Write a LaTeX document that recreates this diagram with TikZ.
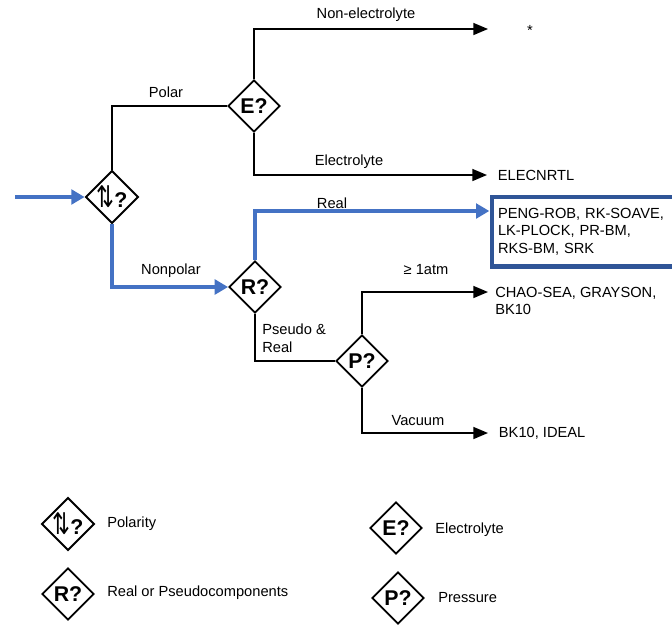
\documentclass[tikz,border=0pt]{standalone}
\usepackage{fontspec}
\setmainfont{Liberation Sans}
\newfontfamily\arrowfont{DejaVu Sans}
\usetikzlibrary{shapes.geometric,arrows.meta}
\definecolor{flowblue}{RGB}{68,114,196}
\definecolor{boxblue}{RGB}{47,85,151}
\tikzset{
  decision/.style={diamond, draw, line width=1.4pt, minimum width=39pt, minimum height=39pt, inner sep=0pt, font=\fontsize{16}{16}\selectfont\bfseries},
  branch/.style={line width=1.1pt},
  flow/.style={draw=flowblue, line width=2.6pt, -{Triangle[length=10pt,width=11pt]}},
  tip/.style={-{Triangle[length=11pt,width=9pt]}},
  lbl/.style={font=\fontsize{11}{13}\selectfont, inner sep=0pt},
  result/.style={lbl, anchor=west, inner xsep=8pt},
  resultbox/.style={lbl, draw=boxblue, line width=3.7pt, outer sep=0pt, inner xsep=4.5pt, minimum height=52pt, text width=230pt, align=left},
}
\newcommand{\polsym}{{\arrowfont\mdseries\scalebox{1}[1.4]{⇅}}?}
\begin{document}
\begin{tikzpicture}[x=0.75pt,y=-0.75pt]
    \clip (0,0) rectangle (672,626);
    \node[decision] (pol) at (112,197) {\polsym};
    \node[decision] (el) at (254,106) {E?};
    \node[decision] (rr) at (255,287) {R?};
    \node[decision] (pr) at (362,361) {P?};
    \coordinate (feed) at (15,197);
    \coordinate (nonelIn) at (488,29);
    \coordinate (chaoIn) at (488,292);
    \node[lbl] (star) at (530,30) {*};
    \node[result] (elec) at (487,175) {ELECNRTL};
    \node[resultbox, anchor=north west] (pengbox) at (492,197) {PENG-ROB, RK-SOAVE,\\LK-PLOCK, PR-BM,\\RKS-BM, SRK};
    \coordinate (realIn) at ([xshift=-2pt,yshift=-10.5pt]pengbox.north west);
    \node[lbl, anchor=north west, align=left] (chao) at (495,287) {CHAO-SEA, GRAYSON,\\BK10};
    \node[result] (bk) at (488,433) {BK10, IDEAL};
    \node[lbl] (polar) at (166,92) {Polar};
    \node[lbl] (nonel) at (366,15) {Non-electrolyte};
    \node[lbl] (electro) at (349,162) {Electrolyte};
    \node[lbl] (nonpolar) at (171,271) {Nonpolar};
    \node[lbl] (real) at (332,203) {Real};
    \node[lbl] (atm) at (426,270) {≥ 1atm};
    \node[lbl, anchor=north west, align=left] (pseudo) at (262,324) {Pseudo \&\\Real};
    \node[lbl] (vacuum) at (418,421) {Vacuum};
    \draw[flow] (feed) -- (pol.west);
    \draw[branch] (pol.north) |- (el.west);
    \draw[branch,tip] (el.north) |- (nonelIn);
    \draw[branch,tip] (el.south) |- (elec.west);
    \draw[flow] (pol.south) |- (rr.west);
    \draw[flow] (rr.north) |- (realIn);
    \draw[branch] (rr.south) |- (pr.west);
    \draw[branch,tip] (pr.north) |- (chaoIn);
    \draw[branch,tip] (pr.south) |- (bk.west);
    \node[decision] (polKey) at (68,524) {\polsym};
    \node[lbl, anchor=west] (polKeyText) at (107,524) {Polarity};
    \node[decision] (rrKey) at (68,594) {R?};
    \node[lbl, anchor=west] (rrKeyText) at (107,593) {Real or Pseudocomponents};
    \node[decision] (elKey) at (396,528) {E?};
    \node[lbl, anchor=west] (elKeyText) at (435,530) {Electrolyte};
    \node[decision] (prKey) at (398,598) {P?};
    \node[lbl, anchor=west] (prKeyText) at (438,598) {Pressure};
\end{tikzpicture}
\end{document}
